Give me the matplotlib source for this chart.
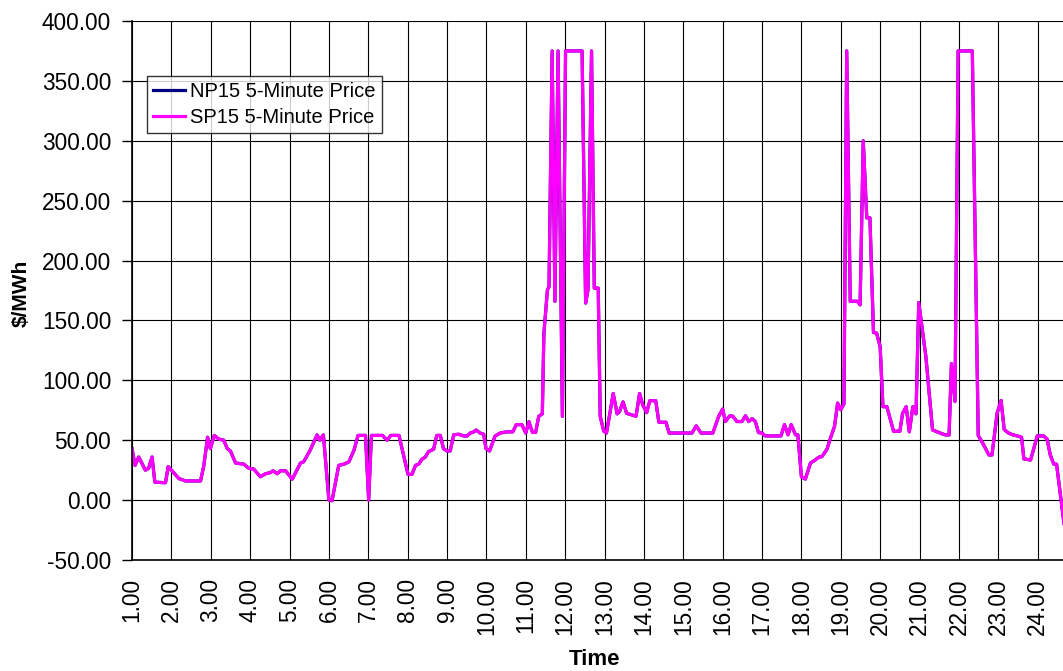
import matplotlib
matplotlib.use("Agg")
import matplotlib.pyplot as plt

# hour of day and price ($/MWh)
hours = [1.00, 1.08, 1.17, 1.34, 1.42, 1.51, 1.58, 1.85, 1.92, 2.19, 2.36, 2.74, 2.82, 2.92,
         2.99, 3.09, 3.20, 3.33, 3.42, 3.50, 3.63, 3.84, 3.97, 4.09, 4.26, 4.39, 4.52, 4.58,
         4.69, 4.77, 4.90, 5.07, 5.28, 5.36, 5.53, 5.70, 5.77, 5.86, 6.00, 6.08, 6.25, 6.38,
         6.51, 6.64, 6.74, 6.93, 7.01, 7.08, 7.36, 7.48, 7.57, 7.78, 8.01, 8.11, 8.20, 8.28,
         8.36, 8.45, 8.53, 8.66, 8.74, 8.83, 8.91, 9.00, 9.08, 9.17, 9.29, 9.43, 9.51, 9.59,
         9.68, 9.74, 9.84, 9.93, 9.99, 10.08, 10.22, 10.35, 10.52, 10.67, 10.76, 10.90, 11.00,
         11.08, 11.17, 11.25, 11.33, 11.42, 11.46, 11.55, 11.59, 11.67, 11.74, 11.82, 11.93,
         12.01, 12.43, 12.52, 12.58, 12.67, 12.74, 12.84, 12.89, 12.98, 13.05, 13.22, 13.32,
         13.38, 13.47, 13.56, 13.70, 13.80, 13.89, 13.97, 14.07, 14.15, 14.30, 14.38, 14.56,
         14.64, 15.22, 15.33, 15.45, 15.75, 15.90, 16.00, 16.07, 16.18, 16.26, 16.36, 16.49,
         16.58, 16.66, 16.75, 16.83, 16.91, 17.00, 17.08, 17.48, 17.57, 17.66, 17.74, 17.85,
         17.91, 18.00, 18.10, 18.23, 18.35, 18.44, 18.52, 18.65, 18.72, 18.84, 18.92, 19.00,
         19.08, 19.15, 19.24, 19.42, 19.49, 19.57, 19.66, 19.74, 19.83, 19.91, 20.00, 20.07,
         20.17, 20.34, 20.50, 20.57, 20.66, 20.74, 20.83, 20.91, 20.98, 21.16, 21.33, 21.45,
         21.60, 21.67, 21.75, 21.81, 21.90, 21.98, 22.34, 22.49, 22.63, 22.76, 22.84, 22.97,
         23.07, 23.15, 23.26, 23.37, 23.48, 23.59, 23.65, 23.82, 23.99, 24.15, 24.24, 24.32,
         24.41, 24.48, 24.67]

sp15_price = [43, 29, 36, 25, 26.5, 36, 15, 14.5, 28, 18, 16, 16, 28, 52.5,
              43, 54, 51, 50, 43, 41, 31, 30, 26.5, 26, 19.5, 22, 23, 24.5,
              22, 24.5, 24.5, 17.5, 31, 32, 42, 54.5, 50, 54.5, 0, -0.5, 29, 30,
              32, 42, 54, 54, 0, 54, 54, 50, 54, 54, 21.5, 21.5, 29, 30,
              34, 36, 40.5, 42.5, 54, 54, 43, 41, 41, 54.5, 55, 53.5, 53.5, 56,
              57, 58.5, 56, 55, 43, 41, 53.5, 56, 57, 57, 63, 63, 56,
              65.5, 56.5, 56.5, 70, 72, 139, 175.6, 178, 375, 166, 375, 70,
              375, 375, 164.5, 175.6, 375, 177, 177, 70, 57.5, 56, 89, 72,
              74, 82, 72.5, 71, 70, 89, 79.5, 73, 83, 83, 65, 65,
              56, 56, 62, 56, 56, 70, 76, 65.6, 70.4, 70, 65.6, 65.6,
              70.4, 65.6, 68, 65.6, 56.4, 56, 53.6, 53.6, 63, 54.5, 63, 54.5,
              54.5, 19.5, 17.6, 31, 33.5, 35.8, 36.3, 42.5, 50, 61.5, 81, 75.4,
              80.5, 375, 166, 166, 163, 300, 235.6, 235.6, 140, 139.4, 128, 78,
              78, 57.5, 57.5, 72.5, 78, 57, 78, 72, 165, 120, 58.6, 57,
              55, 54.4, 54.4, 114, 82.3, 375, 375, 54, 46, 37.7, 37.7, 72.6,
              83.2, 59, 56, 54.5, 53.6, 52.5, 34.4, 33.5, 53.6, 53.6, 50.8, 37.7,
              30, 30, -20]

# NP15 sits exactly under SP15 on the chart
np15_price = list(sp15_price)

hour_ticks = list(range(1, 25))
hour_labels = ["%.2f" % h for h in hour_ticks]
price_ticks = [-50, 0, 50, 100, 150, 200, 250, 300, 350, 400]
price_labels = ["%.2f" % p for p in price_ticks]

plt.rcParams["font.family"] = ["Liberation Sans", "DejaVu Sans"]

fig = plt.figure(figsize=(10.63, 6.71), dpi=100)
ax = fig.add_axes([132 / 1063, 111 / 671, 931 / 1063, 539 / 671])

ax.plot(hours, np15_price, color="#000080", lw=2.3, label="NP15 5-Minute Price")
ax.plot(hours, sp15_price, color="#FF00FF", lw=2.3, label="SP15 5-Minute Price")

ax.set_xlim(1, 24.643)
ax.set_ylim(-50, 400)
ax.set_xticks(hour_ticks)
ax.set_xticklabels(hour_labels, rotation=90, fontsize=16.3)
ax.set_yticks(price_ticks)
ax.set_yticklabels(price_labels, fontsize=16.3)
ax.tick_params(axis="x", length=0, pad=13)
ax.tick_params(axis="y", length=7, width=1, pad=8, direction="out")

ax.grid(True, color="black", lw=0.8)
ax.set_axisbelow(True)
for s in ["top", "right"]:
    ax.spines[s].set_visible(False)
for s in ["left", "bottom"]:
    ax.spines[s].set_color("black")
    ax.spines[s].set_linewidth(1.2)

ax.set_xlabel("Time", fontsize=16, fontweight="bold")
ax.xaxis.set_label_coords(0.497, -0.166)
ax.set_ylabel("$/MWh", fontsize=15, fontweight="bold")
ax.yaxis.set_label_coords(-0.1085, 0.495)

leg = ax.legend(loc="upper left", bbox_to_anchor=(147 / 1063, 1 - 76 / 671),
                bbox_transform=fig.transFigure, fontsize=14.5, frameon=True,
                fancybox=False, shadow=False, handlelength=1.6, handletextpad=0.25,
                labelspacing=0.35, borderpad=0.3, borderaxespad=0)
leg.get_frame().set_edgecolor("black")
leg.get_frame().set_linewidth(1.0)

fig.savefig("out.png", dpi=100)
